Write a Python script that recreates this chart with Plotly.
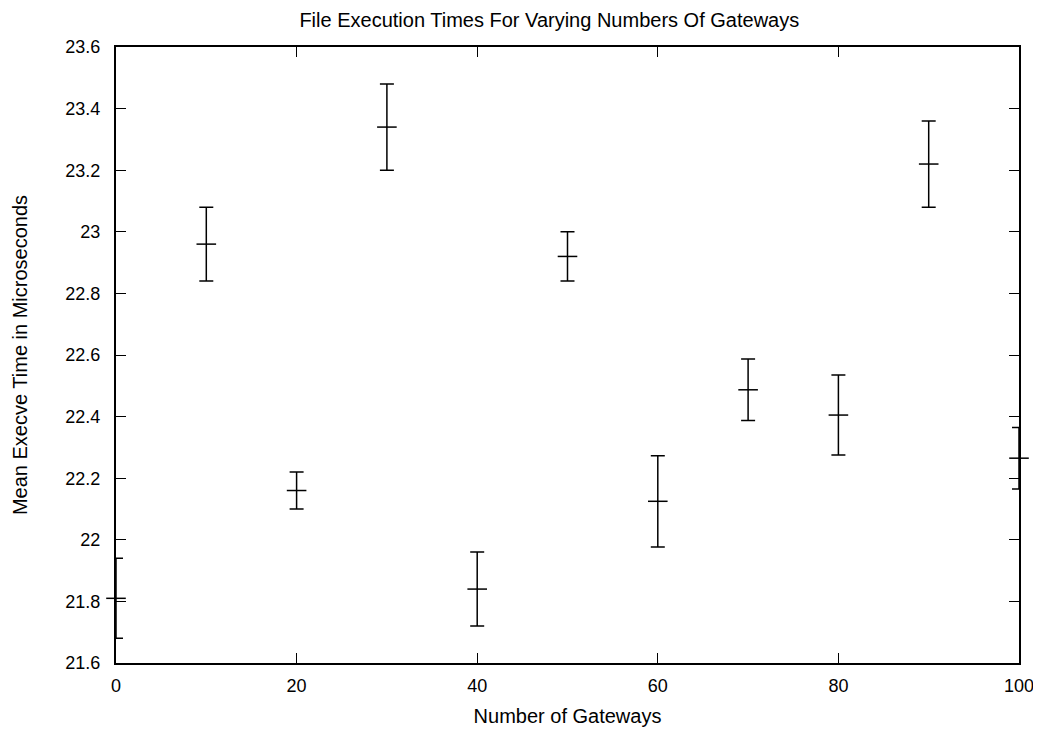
import plotly.graph_objects as go

gateways = [0, 10, 20, 30, 40, 50, 60, 70, 80, 90, 100]
mean_time = [21.81, 22.96, 22.16, 23.34, 21.84, 22.92, 22.125, 22.487, 22.405, 23.22, 22.265]
err_time = [0.13, 0.12, 0.06, 0.14, 0.12, 0.08, 0.148, 0.10, 0.13, 0.14, 0.10]

x_ticks = [0, 20, 40, 60, 80, 100]
y_ticks = [21.6, 21.8, 22.0, 22.2, 22.4, 22.6, 22.8, 23.0, 23.2, 23.4, 23.6]

font_family = "Liberation Sans, Arial, Helvetica, sans-serif"

fig = go.Figure()
fig.add_trace(go.Scatter(
    x=gateways, y=mean_time,
    mode="markers",
    marker=dict(symbol="line-ew", size=14, color="black",
                line=dict(color="black", width=1.5)),
    error_y=dict(type="data", array=err_time, visible=True,
                 color="black", thickness=1.5, width=7),
    cliponaxis=False,
    showlegend=False,
))

fig.update_layout(
    width=1041, height=730,
    paper_bgcolor="white", plot_bgcolor="white",
    margin=dict(l=108, r=30, t=39, b=75),
    font=dict(family=font_family, size=18, color="black"),
    title=dict(text="File Execution Times For Varying Numbers Of Gateways",
               x=0.52, xanchor="center", y=0.993, yanchor="top",
               pad=dict(t=0, b=0),
               font=dict(size=20, family=font_family)),
    xaxis=dict(range=[0, 100], tickvals=x_ticks, ticktext=[str(v) for v in x_ticks],
               ticks="inside", ticklen=10, tickwidth=1.2, tickcolor="black",
               ticklabelstandoff=5,
               showline=True, linecolor="black", linewidth=2, mirror="allticks",
               showgrid=False, zeroline=False,
               title=dict(text="Number of Gateways", standoff=14,
                          font=dict(size=20))),
    yaxis=dict(range=[21.6, 23.6], tickvals=y_ticks,
               ticktext=[("%g" % v) for v in y_ticks],
               ticks="inside", ticklen=10, tickwidth=1.2, tickcolor="black",
               ticklabelstandoff=10,
               showline=True, linecolor="black", linewidth=2, mirror="allticks",
               showgrid=False, zeroline=False,
               title=dict(text="Mean Execve Time in Microseconds", standoff=32,
                          font=dict(size=20))),
)

fig.write_html("out.html")
